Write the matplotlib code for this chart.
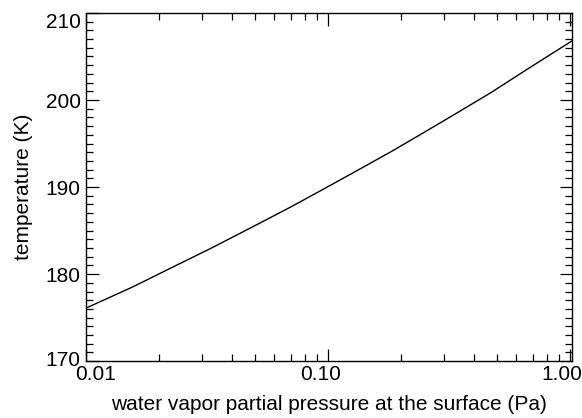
import matplotlib
matplotlib.use('Agg')
import matplotlib.pyplot as plt
from matplotlib.transforms import ScaledTranslation
from matplotlib.ticker import FixedLocator, FixedFormatter, MultipleLocator, LogLocator, NullFormatter

plt.rcParams['font.family'] = ['Liberation Sans', 'DejaVu Sans']

# values
pressure = [0.01, 0.0155, 0.0224, 0.033, 0.0501, 0.07, 0.0934, 0.13, 0.183,
            0.25, 0.313, 0.468, 0.68, 1.02]
temperature = [176.1, 178.5, 180.7, 183.0, 185.6, 187.7, 189.6, 191.8, 194.1,
               196.3, 197.9, 200.8, 203.7, 206.8]

xticks = [0.01, 0.1, 1.0]
xtick_labels = ['0.01', '0.10', '1.00']
yticks = [170, 180, 190, 200, 210]

fig = plt.figure(figsize=(5.82, 4.18), dpi=100)
ax = fig.add_axes([0.148, 0.136, 0.835, 0.833])

ax.plot(pressure, temperature, color='black', lw=1.0)

ax.set_xscale('log')
ax.set_xlim(0.01, 1.02)
ax.set_ylim(170, 210)

ax.xaxis.set_major_locator(FixedLocator(xticks))
ax.xaxis.set_major_formatter(FixedFormatter(xtick_labels))
ax.xaxis.set_minor_locator(LogLocator(base=10, subs=range(2, 10)))
ax.xaxis.set_minor_formatter(NullFormatter())
ax.yaxis.set_major_locator(FixedLocator(yticks))
ax.yaxis.set_minor_locator(MultipleLocator(1))

ax.tick_params(which='both', direction='in', top=True, right=True, width=0.9, colors='black', labelsize=15)
ax.tick_params(which='major', length=9)
ax.tick_params(which='minor', length=5)
ax.tick_params(axis='x', pad=3)
ax.tick_params(axis='y', pad=4)

for s in ax.spines.values():
    s.set_linewidth(1.0)

# the original nudges its end labels a little
def nudge(label, dx, dy):
    label.set_transform(label.get_transform() + ScaledTranslation(dx / 100, dy / 100, fig.dpi_scale_trans))

xl = ax.get_xticklabels()
nudge(xl[0], 9, 0)
nudge(xl[1], -8, 0)
nudge(xl[2], -8, 0)
yl = ax.get_yticklabels()
nudge(yl[0], 0, 3)
yl[-1].set_verticalalignment('top')

ax.set_xlabel('water vapor partial pressure at the surface (Pa)', fontsize=15, labelpad=8)
ax.set_ylabel('temperature (K)', fontsize=15, labelpad=9)

fig.savefig('out.png', dpi=100)
